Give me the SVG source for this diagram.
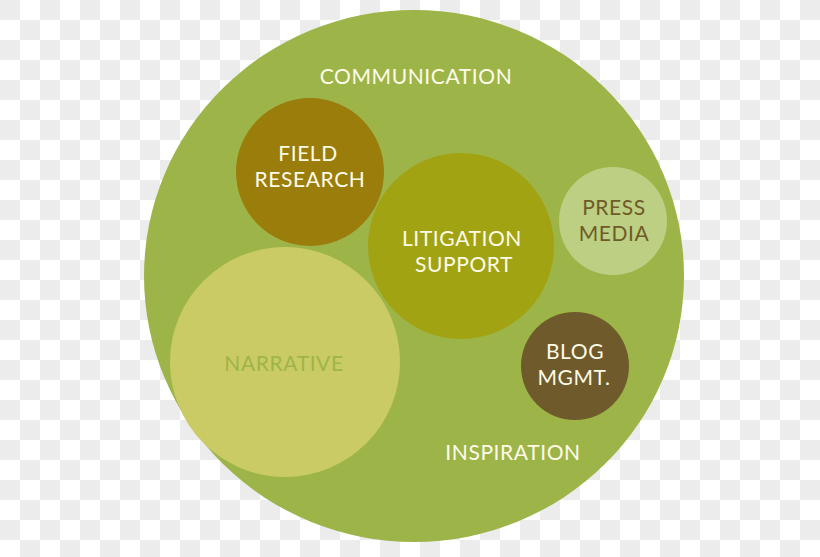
<svg xmlns="http://www.w3.org/2000/svg" width="820" height="557" viewBox="0 0 820 557">
<defs>
<pattern id="chk" width="40" height="40" patternUnits="userSpaceOnUse">
<rect width="40" height="40" fill="#ffffff"/>
<rect width="20" height="20" fill="#ececec"/>
<rect x="20" y="20" width="20" height="20" fill="#ececec"/>
</pattern>
</defs>
<style>
text{font-family:Lato,"Open Sans","Liberation Sans",sans-serif;font-size:21px;text-anchor:middle;letter-spacing:0.6px}
.w{fill:#fdfbe8}
</style>
<rect width="820" height="557" fill="url(#chk)"/>
<g id="communication">
<ellipse cx="414" cy="276" rx="270" ry="266" fill="#9db548"/>
<text class="w" x="416" y="84">COMMUNICATION</text>
<text class="w" x="513" y="460">INSPIRATION</text>
</g>
<g id="field-research">
<circle cx="310" cy="172" r="74" fill="#9a7d0b"/>
<text class="w" x="308" y="161">FIELD</text>
<text class="w" x="310" y="187">RESEARCH</text>
</g>
<g id="litigation-support">
<circle cx="461" cy="246" r="93" fill="#a2a313"/>
<text class="w" x="462" y="246">LITIGATION</text>
<text class="w" x="464" y="272">SUPPORT</text>
</g>
<g id="press-media">
<circle cx="613" cy="221" r="54" fill="#bccf82"/>
<text x="614" y="215" fill="#6f5b28">PRESS</text>
<text x="614" y="241" fill="#6f5b28">MEDIA</text>
</g>
<g id="blog-mgmt">
<circle cx="575" cy="366" r="54" fill="#6e5a2a"/>
<text class="w" x="575" y="359">BLOG</text>
<text class="w" x="574" y="385">MGMT.</text>
</g>
<g id="narrative">
<circle cx="285" cy="362" r="115" fill="#cbcb66"/>
<text x="284" y="371" fill="#9db548">NARRATIVE</text>
</g>
<g id="connectors"/>
</svg>
